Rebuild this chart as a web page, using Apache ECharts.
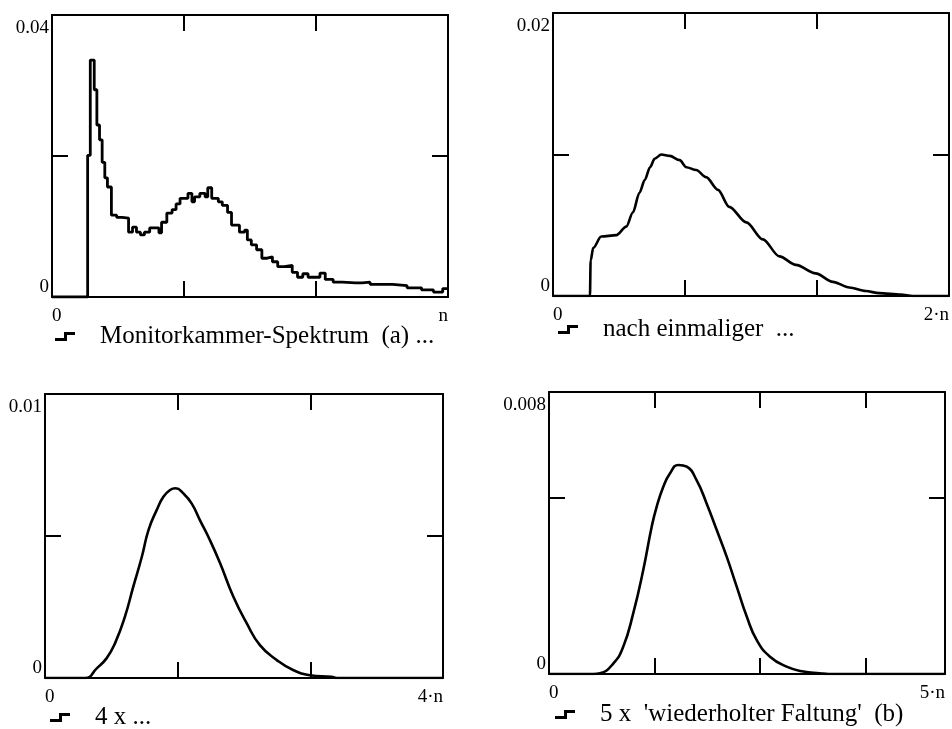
<!DOCTYPE html>
<html>
<head>
<meta charset="utf-8">
<script src="https://cdn.jsdelivr.net/npm/echarts@6/dist/echarts.min.js"></script>
<style>
html, body { margin: 0; padding: 0; background: #fff; }
#main { width: 952px; height: 729px; }
</style>
</head>
<body>
<div id="main"></div>
<script>
// n = 300 Kanäle
var n = 300;

// (a) Monitorkammer-Spektrum, Histogramm (Kanal, Wert)
var specX = [0, 27, 29, 32, 34, 36, 38, 40, 42, 45, 49, 53, 58, 61, 64, 67, 70, 74, 81, 83,
	87, 91, 94, 97, 103, 106, 108, 112, 116, 118, 121, 126, 129, 133, 136, 142, 146, 148, 151, 155,
	159, 163, 167, 171, 176, 182, 186, 190, 194, 203, 207, 213, 220, 230, 235, 241, 258, 269, 280, 289,
	296, 300];
var specY = [0, 0.0201, 0.0336, 0.0294, 0.0244, 0.0223, 0.0191, 0.0169, 0.0156, 0.0116, 0.0113, 0.0112, 0.0092, 0.0099, 0.0092, 0.0088, 0.0092, 0.0098, 0.0091, 0.0106,
	0.0119, 0.0124, 0.0132, 0.0140, 0.0147, 0.0135, 0.0142, 0.0147, 0.0142, 0.0155, 0.0140, 0.0135, 0.0130, 0.0120, 0.0102, 0.0092, 0.0095, 0.0081, 0.0074, 0.0067,
	0.0055, 0.0057, 0.0050, 0.0043, 0.0045, 0.0035, 0.0028, 0.0033, 0.0028, 0.0034, 0.0025, 0.0021, 0.0020, 0.0020, 0.0021, 0.0018, 0.0016, 0.0013, 0.0010, 0.0007,
	0.0012, 0.0012];

// nach einmaliger Faltung
var fold1X = [0, 56, 57, 61, 73, 96, 111, 121, 131, 139, 147, 154, 164, 177, 192, 202, 217, 232, 250, 267,
	293, 318, 343, 368, 398, 424, 449, 474, 494, 527, 545, 600];
var fold1Y = [0, 0, 0.0025, 0.0034, 0.0042, 0.0043, 0.0049, 0.0059, 0.0073, 0.0082, 0.0091, 0.0097, 0.0100, 0.0099, 0.0096, 0.0091, 0.0089, 0.0084, 0.0075, 0.0063,
	0.0052, 0.0040, 0.0028, 0.0022, 0.0016, 0.0010, 0.0006, 0.00035, 0.0002, 0.0001, 0, 0];

// 4 x
var fold4X = [0, 121, 156, 186, 211, 241, 266, 292, 312, 337, 357, 377, 394, 417, 442, 467, 497, 528, 568, 608, 648, 699, 748, 799, 864, 880, 1200];
var fold4Y = [0, 0, 0.00034, 0.0007, 0.00122, 0.00216, 0.00321, 0.00427, 0.00521, 0.00592, 0.00638, 0.00662, 0.00668, 0.0065, 0.00615, 0.00556, 0.00486, 0.00404, 0.00286, 0.00193, 0.00116, 0.00063, 0.00028, 0.0001, 0.00004, 0, 0];

// 5 x (b)
var fold5X = [0, 168, 193, 244, 281, 319, 357, 389, 408, 433, 458, 490, 522, 559, 597, 635, 673, 711, 749, 787, 837, 900, 963, 1026, 1060, 1500];
var fold5Y = [0, 0, 0.00002, 0.0003, 0.00077, 0.00172, 0.00295, 0.00418, 0.00475, 0.00531, 0.00569, 0.00593, 0.00588, 0.0055, 0.00484, 0.00409, 0.00333, 0.00248, 0.00163, 0.00096, 0.00049, 0.00021, 0.00007, 0.00002, 0, 0];

// Achsen: Max, Teilung, Beschriftung
var xMaxs = [n, 2 * n, 4 * n, 5 * n];
var xSteps = [100, 200, 400, 400];
var xEndLabels = ['n', '2·n', '4·n', '5·n'];
var yMaxs = [0.04, 0.02, 0.01, 0.008];
var ySteps = [0.02, 0.01, 0.005, 0.005];
var yTopLabels = ['0.04', '0.02', '0.01', '0.008'];

var names = ['Monitorkammer-Spektrum  (a) ...', 'nach einmaliger  ...', '4 x ...', "5 x  'wiederholter Faltung'  (b)"];

function pairs(xs, ys) {
	var out = [];
	for (var i = 0; i < xs.length; i++) out.push([xs[i], ys[i]]);
	return out;
}

var font = 'Liberation Serif';
var black = '#000';

var myChart = echarts.init(document.getElementById('main'));

var grids = [
	{ left: 52, top: 15, width: 396, height: 282 },
	{ left: 553, top: 13, width: 397, height: 283 },
	{ left: 45, top: 394, width: 398, height: 284 },
	{ left: 549, top: 392, width: 396, height: 282 }
];

var xAxes = [], yAxes = [];
for (var g = 0; g < 4; g++) {
	(function (g) {
		var base = {
			gridIndex: g,
			type: 'value',
			axisLine: { show: true, onZero: false, lineStyle: { color: black, width: 2 } },
			axisTick: { show: true, inside: true, length: 16, lineStyle: { color: black, width: 2 } },
			splitLine: { show: false }
		};
		// unten
		xAxes.push(Object.assign({}, base, {
			position: 'bottom', min: 0, max: xMaxs[g], interval: xSteps[g],
			axisLabel: {
				margin: 10, color: black, fontFamily: font, fontSize: 19,
				alignMinLabel: 'left', alignMaxLabel: 'right',
				formatter: function (v) { return v === 0 ? '0' : (v === xMaxs[g] ? xEndLabels[g] : ''); }
			}
		}));
		// oben
		xAxes.push(Object.assign({}, base, {
			position: 'top', min: 0, max: xMaxs[g], interval: xSteps[g],
			axisLabel: { show: false }
		}));
		// links
		yAxes.push(Object.assign({}, base, {
			position: 'left', min: 0, max: yMaxs[g], interval: ySteps[g],
			axisLabel: {
				margin: 3, color: black, fontFamily: font, fontSize: 19,
				padding: [4, 0, 0, 0],
				verticalAlignMinLabel: 'bottom', verticalAlignMaxLabel: 'top',
				formatter: function (v) { return v === 0 ? '0' : (Math.abs(v - yMaxs[g]) < 1e-9 ? yTopLabels[g] : ''); }
			}
		}));
		// rechts
		yAxes.push(Object.assign({}, base, {
			position: 'right', min: 0, max: yMaxs[g], interval: ySteps[g],
			axisLabel: { show: false }
		}));
	})(g);
}

var stepIcon = 'path://M0,6 L9,6 L9,0 L20,0 L20,3 L12,3 L12,9 L0,9 Z';
var legendPos = [[55, 324], [558, 317], [50, 705], [555, 702]];
var legends = [];
for (var k = 0; k < 4; k++) {
	legends.push({
		left: legendPos[k][0], top: legendPos[k][1], padding: 0,
		data: [names[k]], selectedMode: false,
		icon: stepIcon, itemWidth: 20, itemHeight: 9,
		textStyle: { fontFamily: font, fontSize: 25, color: black, padding: [0, 0, 0, 20] }
	});
}

var lineStyle = { color: black, width: 2.6 };

option = {
	animation: false,
	color: [black],
	grid: grids,
	xAxis: xAxes,
	yAxis: yAxes,
	legend: legends,
	series: [
		{ name: names[0], type: 'line', step: 'end', xAxisIndex: 0, yAxisIndex: 0, symbol: 'none', lineStyle: { color: black, width: 2.8 }, data: pairs(specX, specY) },
		{ name: names[1], type: 'line', smooth: 0.3, smoothMonotone: 'x', xAxisIndex: 2, yAxisIndex: 2, symbol: 'none', lineStyle: lineStyle, data: pairs(fold1X, fold1Y) },
		{ name: names[2], type: 'line', smooth: 0.5, xAxisIndex: 4, yAxisIndex: 4, symbol: 'none', lineStyle: lineStyle, data: pairs(fold4X, fold4Y) },
		{ name: names[3], type: 'line', smooth: 0.5, xAxisIndex: 6, yAxisIndex: 6, symbol: 'none', lineStyle: lineStyle, data: pairs(fold5X, fold5Y) }
	]
};

myChart.setOption(option);
</script>
</body>
</html>
